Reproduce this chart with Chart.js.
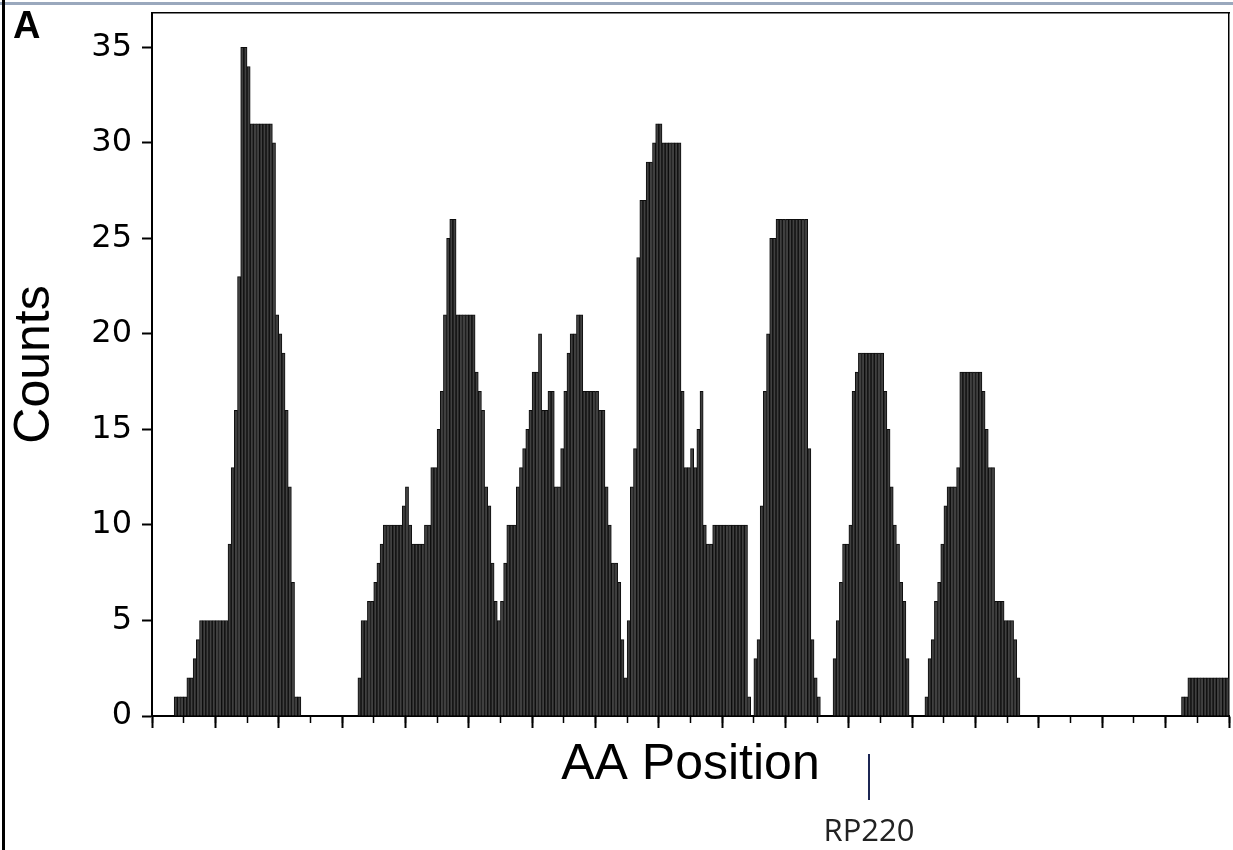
<!DOCTYPE html>
<html>
<head>
<meta charset="utf-8">
<script src="https://cdn.jsdelivr.net/npm/chart.js@4.4.1/dist/chart.umd.min.js"></script>
<style>
  html, body { margin: 0; padding: 0; background: #fff; overflow: hidden; }
  #wrap { position: relative; width: 1233px; height: 850px; }
  #topline { position: absolute; left: 0; top: 2px; width: 1233px; height: 3px; background: #9aa8bd; }
  #leftline { position: absolute; left: 2px; top: 0; width: 3px; height: 850px; background: #000; }
  #panel { position: absolute; left: 13px; top: 4px; font: bold 38px "Liberation Sans", Arial, sans-serif; color: #000; }
</style>
</head>
<body>
<div id="wrap">
  <canvas id="myChart"></canvas>
  <div id="topline"></div>
  <div id="leftline"></div>
  <div id="panel">A</div>
</div>
<script>
// counts per AA position (one bar per position)
var countsA = [0,0,0,0,0,0,0, 1,1,1,1, 2,2, 3, 4, 5,5,5,5,5,5,5,5,5,
  9,13,16,23,35,35,34, 31,31,31,31,31,31,31, 30,21,20,19,16,12,7,1,1,
  0,0,0,0,0,0,0,0,0,0,0,0,0,0,0,0,0,0,
  2,5,5,6,6,7,8,9, 10,10,10,10,10,10, 11,12,10,9,9,9];
var countsB = [9, 10,10, 13,13, 15,17,21,25, 26,26, 21,21,21,21,21,21,
  18,17,16,12,11,8,6,5,6,8, 10,10,10, 12,13,14,15,16, 18,18, 20, 16,16, 17,17,
  12,12, 14,17,19, 20,20, 21,21, 17,17,17,17,17, 16,16, 12,10, 8,8,
  7,4,2,5,12,14,24, 27,27, 29,29, 30, 31,31, 30,30,30,30,30,30, 17, 13,13];
var countsC = [14,13,15,17,10,9,9, 10,10,10,10,10,10,10,10,10,10,10,
  1,0,3,4,11,17,20,25,25, 26,26,26,26,26,26,26,26,26,26,
  14,4,2,1, 0,0,0,0, 3,5,7,9,9,10,17,18, 19,19,19,19,19,19,19,19,
  17,15,12,10,9,7,6,3, 0,0,0,0,0, 1,3,4,6,7,9,11, 12,12,12, 13];
var countsD = [18,18,18,18,18,18,18, 17,15,13,13, 6,6,6, 5,5,5, 4,2,
  0,0,0,0,0,0,0,0,0,0,0,0,0,0,0,0,0,0,0,0,0,0,0,0,0,0,0,0,0,0,0,0,0,0,0,
  0,0,0,0,0,0,0,0,0,0,0,0,0,0,0,0,
  1,1, 2,2,2,2,2,2,2,2,2,2,2,2,2];
var yTicks = [0, 5, 10, 15, 20, 25, 30, 35];
var xMax = 340;
var yMax = 36.8;
var markerPos = 226.5;
var markerLabel = 'RP220';

var counts = countsA.concat(countsB, countsC, countsD);
var points = counts.map(function (v, i) { return { x: i + 0.5, y: v }; });

var markerPlugin = {
  id: 'marker',
  afterDraw: function (chart) {
    var c = chart.ctx;
    var px = Math.round(chart.scales.x.getPixelForValue(markerPos));
    var base = chart.chartArea.bottom;
    c.save();
    c.strokeStyle = '#1c2654';
    c.lineWidth = 2;
    c.beginPath();
    c.moveTo(px, base + 38);
    c.lineTo(px, base + 84);
    c.stroke();
    c.fillStyle = '#222';
    c.font = '31px "Open Sans"';
    c.textAlign = 'center';
    c.textBaseline = 'middle';
    c.fillText(markerLabel, px, base + 116);
    c.restore();
  }
};

var ctx = document.getElementById('myChart').getContext('2d');
var myChart = new Chart(ctx, {
  type: 'bar',
  data: {
    datasets: [{
      data: points,
      backgroundColor: '#404040',
      borderColor: '#0d0d0d',
      borderWidth: 1,
      barPercentage: 1,
      categoryPercentage: 1,
      xAxisID: 'x',
      yAxisID: 'y'
    }]
  },
  options: {
    responsive: true,
    maintainAspectRatio: false,
    animation: false,
    layout: { padding: { top: 13, right: 4, bottom: 55, left: 0 } },
    plugins: { legend: { display: false }, tooltip: { enabled: false } },
    scales: {
      x: {
        type: 'linear', min: 0, max: xMax, position: 'bottom', offset: false,
        ticks: { display: false, stepSize: 20 },
        grid: { offset: false, drawOnChartArea: false, tickLength: 12, tickColor: '#000', tickWidth: 2 },
        border: { display: true, color: '#000', width: 2 },
        title: { display: true, text: 'AA Position', color: '#000', padding: 0,
          font: { family: '"Liberation Sans", Arial', size: 50 } },
        afterFit: function (s) { s.height = 79; s.paddingLeft = 0; s.paddingRight = 0; }
      },
      xMinor: {
        type: 'linear', min: 0, max: xMax, position: { y: 0 }, offset: false,
        ticks: { display: false, stepSize: 10 },
        grid: { offset: false, drawOnChartArea: false, tickLength: 7, tickColor: '#000', tickWidth: 1.5 },
        border: { display: false }
      },
      x2: {
        type: 'linear', min: 0, max: xMax, position: 'top', offset: false,
        ticks: { display: false },
        grid: { display: false },
        border: { display: true, color: '#000', width: 1.5 },
        afterFit: function (s) { s.height = 0; }
      },
      y: {
        min: 0, max: yMax,
        afterBuildTicks: function (s) { s.ticks = yTicks.map(function (v) { return { value: v }; }); },
        ticks: { color: '#000', padding: 10, font: { family: '"DejaVu Sans"', size: 32 } },
        grid: { drawOnChartArea: false, tickLength: 10, tickColor: '#000', tickWidth: 2 },
        border: { display: true, color: '#000', width: 2 },
        title: { display: true, text: 'Counts', color: '#000', padding: { top: 5, bottom: 0 },
          font: { family: '"Liberation Sans", Arial', size: 50 } },
        afterFit: function (s) { s.width = 152; s.paddingTop = 0; s.paddingBottom = 0; }
      },
      y2: {
        min: 0, max: yMax, position: 'right',
        ticks: { display: false },
        grid: { display: false },
        border: { display: true, color: '#000', width: 1.5 },
        afterFit: function (s) { s.width = 0; s.paddingTop = 0; s.paddingBottom = 0; }
      }
    }
  },
  plugins: [markerPlugin]
});
</script>
</body>
</html>
